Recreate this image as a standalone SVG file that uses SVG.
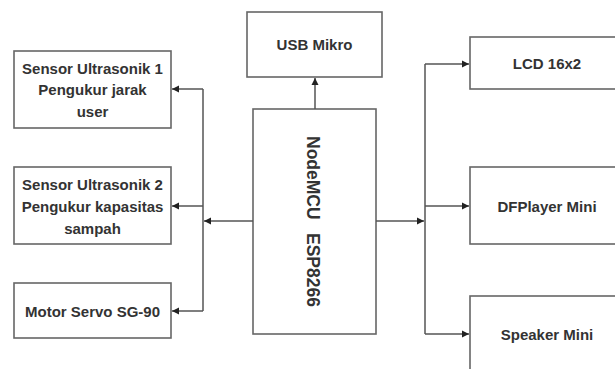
<svg xmlns="http://www.w3.org/2000/svg" width="615" height="369" viewBox="0 0 615 369">
<defs>
<marker id="ah" markerWidth="8" markerHeight="8" refX="7" refY="4" orient="auto" markerUnits="userSpaceOnUse">
<path d="M0,0.5 L7,4 L0,7.5 Z" fill="#222"/>
</marker>
<style>
.box{fill:#fff;stroke:#666;stroke-width:1.6}
.t{font-family:"Liberation Sans",Arial,sans-serif;font-size:15px;font-weight:bold;fill:#333;text-anchor:middle;dominant-baseline:central}
.v{font-family:"Liberation Sans",Arial,sans-serif;font-size:17.5px;font-weight:bold;fill:#333;dominant-baseline:central}
.c{fill:none;stroke:#555;stroke-width:1.5}
</style>
</defs>
<rect width="615" height="369" fill="#fff"/>
<g id="sensor1"><rect class="box" x="14" y="51" width="157" height="77"/>
<text class="t" x="92.5" y="68">Sensor Ultrasonik 1</text>
<text class="t" x="92.5" y="89.5">Pengukur jarak</text>
<text class="t" x="92.5" y="111">user</text></g>
<g id="sensor2"><rect class="box" x="14" y="167" width="157" height="77"/>
<text class="t" x="92.5" y="184">Sensor Ultrasonik 2</text>
<text class="t" x="92.5" y="206">Pengukur kapasitas</text>
<text class="t" x="92.5" y="228">sampah</text></g>
<g id="servo"><rect class="box" x="14" y="283" width="157" height="55"/>
<text class="t" x="92.5" y="311">Motor Servo SG-90</text></g>
<g id="usb"><rect class="box" x="247" y="12" width="135" height="65"/>
<text class="t" x="314.5" y="44">USB Mikro</text></g>
<g id="nodemcu"><rect class="box" x="253" y="109" width="123" height="225"/>
<text class="v" transform="translate(313,0) rotate(90)"><tspan x="136" y="0">NodeMCU</tspan><tspan x="233" y="0">ESP8266</tspan></text></g>
<g id="lcd"><rect class="box" x="470" y="37" width="160" height="52"/>
<text class="t" x="547" y="63">LCD 16x2</text></g>
<g id="dfplayer"><rect class="box" x="470" y="167" width="160" height="77"/>
<text class="t" x="547" y="206">DFPlayer Mini</text></g>
<g id="speaker"><rect class="box" x="470" y="296" width="160" height="90"/>
<text class="t" x="547" y="334">Speaker Mini</text></g>
<g id="connectors">
<path class="c" d="M315,109 V78" marker-end="url(#ah)"/>
<path class="c" d="M253,221 H204" marker-end="url(#ah)"/>
<path class="c" d="M203,89 V311"/>
<path class="c" d="M203,89 H172" marker-end="url(#ah)"/>
<path class="c" d="M203,206 H172" marker-end="url(#ah)"/>
<path class="c" d="M203,311 H172" marker-end="url(#ah)"/>
<path class="c" d="M376,221 H424" marker-end="url(#ah)"/>
<path class="c" d="M425,64 V334"/>
<path class="c" d="M425,64 H469" marker-end="url(#ah)"/>
<path class="c" d="M425,206 H469" marker-end="url(#ah)"/>
<path class="c" d="M425,334 H469" marker-end="url(#ah)"/>
</g>
</svg>
